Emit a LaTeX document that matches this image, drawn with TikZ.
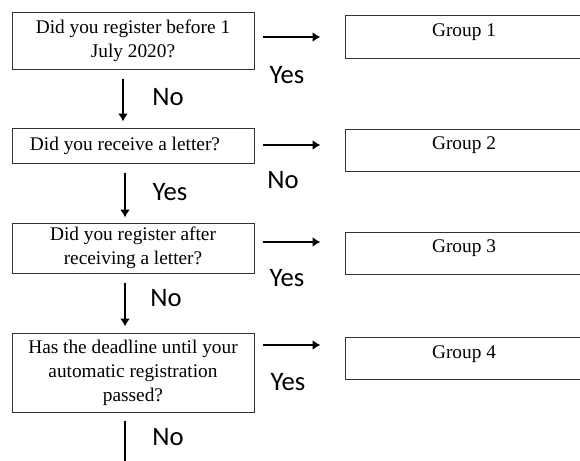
\documentclass[tikz,border=0pt]{standalone}
\usepackage{fontspec}
\usepackage{tikz}
\usetikzlibrary{calc,arrows.meta,positioning}
\newfontfamily\boxfont{Liberation Serif}
\newfontfamily\answerfont{Carlito}

\begin{document}
\begin{tikzpicture}[x=0.75pt,y=-0.75pt]

\tikzset{questionnode/.style={draw=black!80,line width=0.75pt,inner sep=0pt,minimum width=181.5pt,align=center,font=\boxfont\fontsize{14.5}{18}\selectfont},
groupnode/.style={draw=black!80,line width=0.75pt,inner sep=0pt,minimum width=177.75pt,minimum height=31.5pt,text depth=10pt,anchor=west,font=\boxfont\fontsize{14.5}{18}\selectfont},
answer/.style={font=\answerfont\fontsize{20}{24}\selectfont,inner sep=0pt},
arr/.style={line width=1.8pt,-{Latex[length=6pt,width=7.5pt]}}}

% Frame
\clip (0,0) rectangle (580,460);

% Questions
\node[questionnode,minimum height=42pt] (q1) at (133,41) {Did you register before 1\\July 2020?};
\node[questionnode,minimum height=26.25pt] (q2) at (133,145.5) {Did you receive a letter?\hspace*{12pt}};
\node[questionnode,minimum height=37.5pt] (q3) at (133,248) {Did you register after\\receiving a letter?};
\node[questionnode,minimum height=59.25pt] (q4) at (133,372.5) {Has the deadline until your\\automatic registration\\passed?};

% Groups
\node[groupnode] (g1) at (345,37) {Group 1};
\node[groupnode] (g2) at (345,150) {Group 2};
\node[groupnode] (g3) at (345,253) {Group 3};
\node[groupnode] (g4) at (345,358.5) {Group 4};

% Down arrows
\coordinate (exit) at (125,470);
\draw[arr] ([xshift=-7.5pt,yshift=-6.75pt]q1.south) -- ([xshift=-7.5pt,yshift=4.5pt]q2.north);
\draw[arr] ([xshift=-6pt,yshift=-6.75pt]q2.south) -- ([xshift=-6pt,yshift=3.75pt]q3.north);
\draw[arr] ([xshift=-6pt,yshift=-6.75pt]q3.south) -- ([xshift=-6pt,yshift=4.5pt]q4.north);
\draw[arr] ([xshift=-6pt,yshift=-6pt]q4.south) -- (exit);

% Right arrows
\draw[arr] ($(q1.east)+(8,-4)$) -- ++(58,0);
\draw[arr] ($(q2.east)+(8,-0.5)$) -- ++(58,0);
\draw[arr] ($(q3.east)+(8,-6)$) -- ++(58,0);
\draw[arr] ($(q4.east)+(8,-27.5)$) -- ++(58,0);

% Answers
\node[answer] (y1) at (287,75) {Yes};
\node[answer] (n2) at (283,180) {No};
\node[answer] (y3) at (287,278) {Yes};
\node[answer] (y4) at (288,382) {Yes};
\node[answer] (n1) at (168,97) {No};
\node[answer] (y2) at (170,192) {Yes};
\node[answer] (n3) at (166,298) {No};
\node[answer] (n4) at (168,437) {No};

\end{tikzpicture}
\end{document}
